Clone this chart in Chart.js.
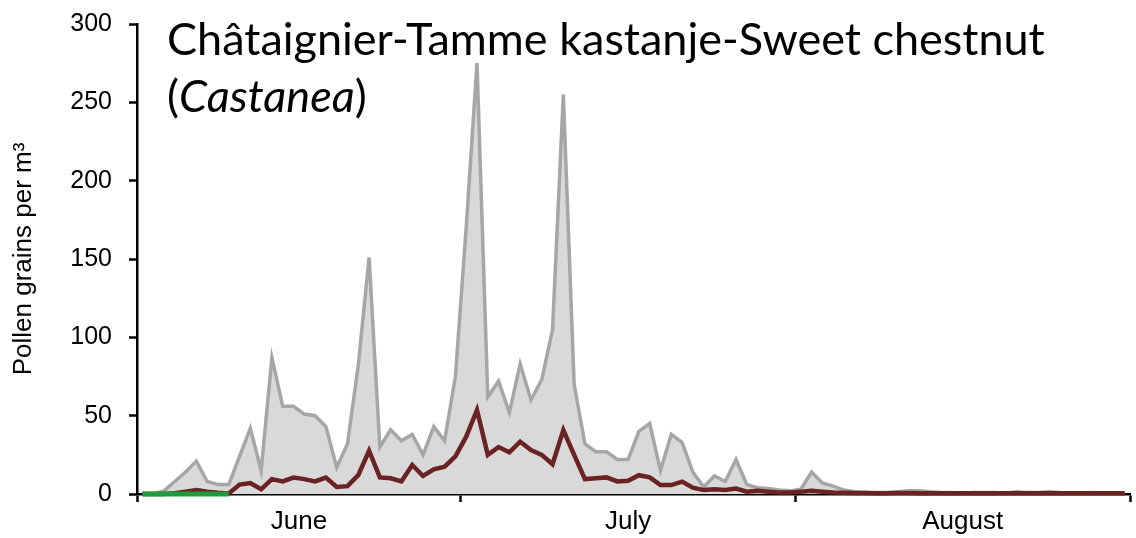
<!DOCTYPE html>
<html>
<head>
<meta charset="utf-8">
<script src="https://cdn.jsdelivr.net/npm/chart.js@4.4.1/dist/chart.umd.min.js"></script>
<style>
  html, body { margin:0; padding:0; background:#fff; }
  #wrap { position:relative; width:1136px; height:538px; }
  #title { position:absolute; left:167px; top:10px; font-family:Lato, "Open Sans", sans-serif; font-size:45px; line-height:57px; color:#000; white-space:nowrap; }
</style>
</head>
<body>
<div id="wrap">
  <canvas id="pollen" width="1136" height="538"></canvas>
  <div id="title">Châtaignier-Tamme kastanje-Sweet chestnut<br>(<i>Castanea</i>)</div>
</div>
<script>
// months shown on the x axis, one point per day
const months = ['June', 'July', 'August'];
const monthDays = [30, 31, 31];

// max of previous years (grey area), daily
const maxVals = [0, 0, 2, 8, 14, 21, 8, 6, 6, 24,
  42, 15, 87, 56, 56, 51, 50, 43, 17, 32,
  82, 151, 30, 41, 34, 38, 25, 43, 34, 75,
  170, 275, 62, 72, 52, 83, 60, 73, 105, 255,
  70, 32, 27, 27, 22, 22, 40, 45, 15, 38,
  33, 14, 4.5, 11.5, 8, 22, 6, 4, 3.5, 2.5,
  2, 3, 14, 7, 5, 2.5, 1.5, 1, 1, 1,
  1.5, 2, 2, 1.5, 1, 1, 0.5, 1, 1, 1,
  0.5, 1.5, 1, 1, 1.5, 1, 0.5, 0.5, 1, 0.5,
  0.5, 0.5];

// mean of previous years (dark red line)
const meanVals = [0, 0, 0, 0.5, 1.5, 2.5, 1.5, 0.8, 0.3, 6,
  7, 3, 9.5, 8, 10.5, 9.5, 8, 10.5, 4.5, 5,
  12, 27.6, 10.6, 10, 8, 18.5, 11.5, 15.7, 17.4, 24,
  36.6, 53.6, 25, 30, 26.6, 33.4, 28, 25, 19, 40.8,
  25, 9.5, 10, 10.6, 8, 8.5, 12, 10.6, 5.7, 5.7,
  7.9, 4, 2.5, 3, 2.5, 3.5, 1.5, 2, 1.5, 1,
  1, 1.5, 2, 1.5, 1, 0.8, 0.6, 0.6, 0.5, 0.5,
  0.6, 0.6, 0.5, 0.5, 0.5, 0.5, 0.4, 0.5, 0.5, 0.5,
  0.4, 0.5, 0.5, 0.5, 0.5, 0.5, 0.4, 0.4, 0.5, 0.4,
  0.4, 0.4];

// current year so far (green)
const currentVals = [0, 0, 0, 0, 0, 0, 0, 0, 0];

const yTicks = [0, 50, 100, 150, 200, 250, 300];

let total = 0;
let bounds = [0];
let mids = [];
for (let m = 0; m < months.length; m++) {
  mids.push(total + monthDays[m] / 2);
  total += monthDays[m];
  bounds.push(total);
}

function pts(arr) {
  return arr.map((v, i) => ({ x: i + 0.5, y: v }));
}

const ctx = document.getElementById('pollen').getContext('2d');
const chart = new Chart(ctx, {
  type: 'line',
  data: {
    datasets: [
      { label: 'current', data: pts(currentVals), borderColor: '#1f9b3b', borderWidth: 5, pointRadius: 0, fill: false, order: 0, clip: false },
      { label: 'mean', data: pts(meanVals), borderColor: '#6a2222', borderWidth: 4.5, pointRadius: 0, fill: false, order: 1, clip: false },
      { label: 'max', data: pts(maxVals), borderColor: '#a6a6a6', backgroundColor: '#d9d9d9', borderWidth: 3.5, pointRadius: 0, fill: 'origin', order: 2 }
    ]
  },
  options: {
    responsive: false,
    animation: false,
    layout: { padding: { top: 24, right: 6, left: 0, bottom: 0 } },
    plugins: { legend: { display: false }, tooltip: { enabled: false } },
    elements: { line: { tension: 0 } },
    scales: {
      x: {
        type: 'linear',
        min: 0,
        max: total,
        afterFit: s => { s.height = 44; },
        afterBuildTicks: s => {
          let t = [];
          bounds.forEach(b => t.push({ value: b }));
          mids.forEach(m => t.push({ value: m }));
          t.sort((a, b) => a.value - b.value);
          s.ticks = t;
        },
        border: { display: true, color: '#000', width: 2.5 },
        grid: {
          drawOnChartArea: false,
          drawTicks: true,
          tickLength: 8,
          tickWidth: 2.5,
          tickColor: c => bounds.includes(c.tick.value) ? '#000' : 'rgba(0,0,0,0)'
        },
        ticks: {
          autoSkip: false,
          maxRotation: 0,
          padding: 4,
          color: '#000',
          font: { family: '"Liberation Sans", Arial, sans-serif', size: 26 },
          callback: v => {
            let k = mids.indexOf(v);
            return k >= 0 ? months[k] : '';
          }
        }
      },
      y: {
        min: 0,
        max: 300,
        afterFit: s => { s.width = 137; s.paddingTop = 0; s.paddingBottom = 0; },
        afterBuildTicks: s => { s.ticks = yTicks.map(v => ({ value: v })); },
        border: { display: true, color: '#000', width: 2.5 },
        grid: { drawOnChartArea: false, drawTicks: true, tickLength: 8, tickWidth: 2.5, tickColor: '#000' },
        ticks: {
          padding: 17,
          color: '#000',
          font: { family: '"Liberation Sans", Arial, sans-serif', size: 25 }
        },
        title: {
          display: true,
          text: 'Pollen grains per m³',
          color: '#000',
          padding: { top: 8, bottom: 0 },
          font: { family: '"Liberation Sans", Arial, sans-serif', size: 26 }
        }
      }
    }
  }
});
</script>
</body>
</html>
